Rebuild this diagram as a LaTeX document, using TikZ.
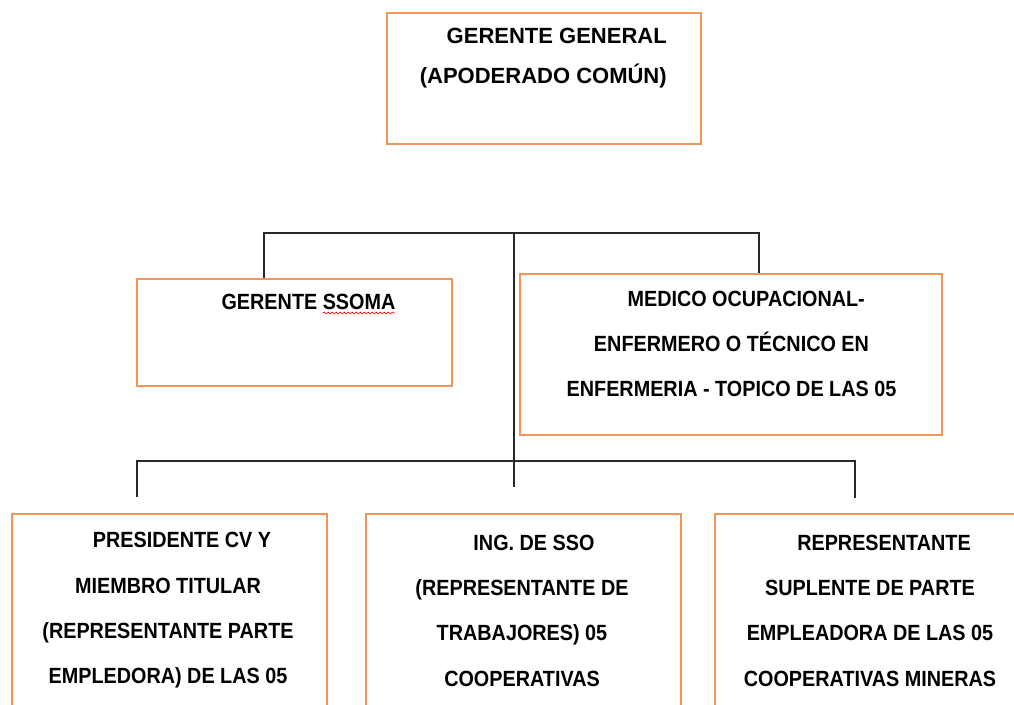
\documentclass[tikz,border=0pt]{standalone}
\usepackage{fontspec}
\setmainfont{Liberation Sans}
\newfontfamily\narrowarial[FakeStretch=0.9]{Liberation Sans}
\usetikzlibrary{decorations.pathmorphing}
\definecolor{boxorange}{RGB}{242,150,88}
\definecolor{linegray}{RGB}{40,40,40}
\tikzset{
  orgbox/.style={draw=boxorange, line width=1.1pt, inner sep=0pt, fill=none},
  orgtext/.style={inner sep=0pt, align=center, font=\narrowarial\bfseries\fontsize{16.5pt}{34pt}\selectfont},
  toptext/.style={inner sep=0pt, align=right, font=\bfseries\fontsize{16.5pt}{30pt}\selectfont},
  bus/.style={draw=linegray, line width=1pt},
}
\begin{document}
\begin{tikzpicture}[x=0.75pt, y=-0.75pt]
\useasboundingbox (0,0) rectangle (1014,704);
\clip (0,0) rectangle (1014,704);
\fill[white] (0,0) rectangle (1014,704);

% boxes
\node[orgbox, minimum width=235.5pt, minimum height=98.25pt] (gg) at (544,78.5) {};
\node[orgbox, minimum width=236.25pt, minimum height=80.25pt] (ssoma) at (294.5,332.5) {};
\node[orgbox, minimum width=316.5pt, minimum height=120.75pt] (medico) at (731,354.5) {};
\node[orgbox, minimum width=236.25pt, minimum height=162pt] (pres) at (169.5,622) {};
\node[orgbox, minimum width=236.25pt, minimum height=162pt] (ing) at (523.5,622) {};
\node[orgbox, minimum width=232.5pt, minimum height=162pt] (rep) at (870,622) {};

% texts
\node[toptext, anchor=east] (ggt) at (667,58) {GERENTE GENERAL\\(APODERADO COMÚN)};
\node[orgtext] (ssomat) at (308.5,302) {GERENTE SSOMA};
\node[orgtext] (medicot) at (731.5,344) {\hspace{22pt}MEDICO OCUPACIONAL-\\ENFERMERO O TÉCNICO EN\\ENFERMERIA - TOPICO DE LAS 05};
\node[orgtext] (prest) at (168,610.5) {\hspace{21pt}PRESIDENTE CV Y\\MIEMBRO TITULAR\\(REPRESENTANTE PARTE\\EMPLEDORA) DE LAS 05};
\node[orgtext] (ingt) at (522,610.5) {\hspace{18pt}ING. DE SSO\\(REPRESENTANTE DE\\TRABAJORES) 05\\COOPERATIVAS};
\node[orgtext] (rept) at (870,610.5) {\hspace{21pt}REPRESENTANTE\\SUPLENTE DE PARTE\\EMPLEADORA DE LAS 05\\COOPERATIVAS MINERAS};

% spell-check underline
\coordinate (sq1) at (323,313);
\coordinate (sq2) at (395,313);
\draw[red, line width=0.5pt, decorate, decoration={snake, segment length=3pt, amplitude=0.7pt}] (sq1) -- (sq2);

% connectors
\coordinate (bl) at (264,233);
\coordinate (bc) at (514,233);
\coordinate (br) at (759,233);
\coordinate (cend) at (514,487);
\draw[bus] (ssoma.north -| bl) -- (bl) -- (br) -- (medico.north -| br);
\draw[bus] (bc) -- (cend);

\coordinate (l1) at (137,461);
\coordinate (l2) at (855,461);
\coordinate (d1) at (137,497);
\coordinate (d2) at (855,498);
\draw[bus] (d1) -- (l1) -- (l2) -- (d2);
\end{tikzpicture}
\end{document}
